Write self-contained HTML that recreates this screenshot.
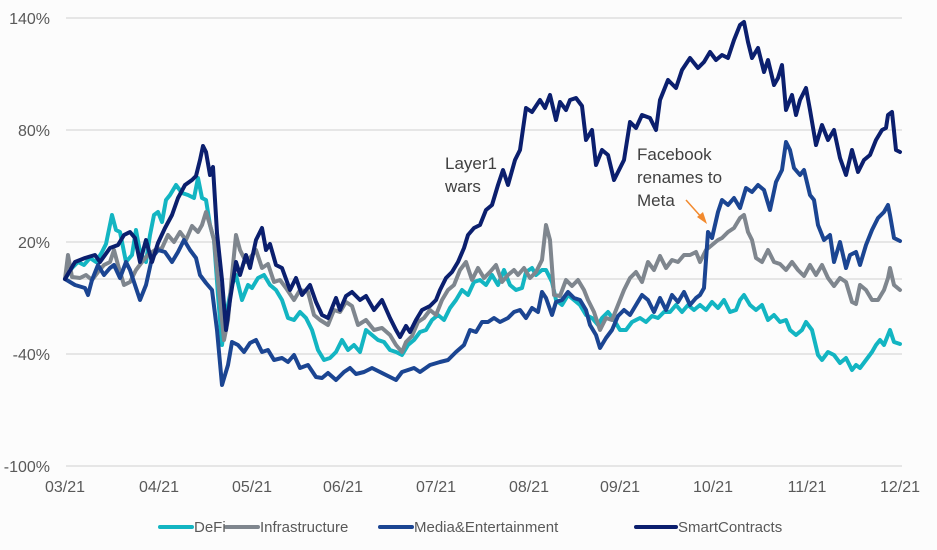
<!DOCTYPE html>
<html><head><meta charset="utf-8"><style>
body{margin:0;background:#fcfcfc;}
svg{display:block;font-family:"Liberation Sans Narrow","Liberation Sans",sans-serif;}
</style></head><body>
<svg width="937" height="550" viewBox="0 0 937 550">
<rect width="937" height="550" fill="#fcfcfc"/>
<g stroke="#d9d9d9" stroke-width="1.3">
<line x1="66" x2="902" y1="18" y2="18"/><line x1="66" x2="902" y1="130" y2="130"/>
<line x1="66" x2="902" y1="242" y2="242"/><line x1="66" x2="902" y1="279" y2="279"/>
<line x1="66" x2="902" y1="354" y2="354"/><line x1="66" x2="902" y1="466" y2="466"/>
</g>
<g font-size="16" fill="#595959" text-anchor="end">
<text x="50" y="24">140%</text><text x="50" y="136">80%</text><text x="50" y="248">20%</text>
<text x="50" y="360">-40%</text><text x="50" y="472">-100%</text>
</g>
<g font-size="16" fill="#595959" text-anchor="middle">
<text x="65" y="492">03/21</text><text x="159" y="492">04/21</text><text x="252" y="492">05/21</text>
<text x="343" y="492">06/21</text><text x="436" y="492">07/21</text><text x="529" y="492">08/21</text>
<text x="620" y="492">09/21</text><text x="713" y="492">10/21</text><text x="807" y="492">11/21</text>
<text x="900" y="492">12/21</text>
</g>
<g fill="none" stroke-width="4" stroke-linejoin="round" stroke-linecap="round">
<polyline stroke="#13b5c2" points="65,279 72,268 78,262 84,265 90,258 96,262 102,252 106,244 112,215 116,230 120,232 126,262 132,255 136,230 140,252 146,262 150,235 154,215 158,212 162,222 166,200 170,195 176,185 182,193 188,195 194,198 198,178 202,198 206,200 210,225 214,240 218,295 222,345 226,315 232,285 236,275 242,300 248,285 252,288 258,278 264,275 270,285 276,290 282,300 288,318 294,320 300,312 306,318 312,330 318,350 324,360 330,358 336,352 342,340 348,350 354,345 360,352 366,330 372,335 378,340 384,342 390,350 396,352 402,355 408,345 414,340 420,332 426,330 432,320 438,315 444,320 450,308 456,300 462,290 468,295 474,282 480,280 486,285 492,275 498,285 504,270 510,285 516,290 522,288 526,272 532,268 536,275 542,270 546,270 552,282 556,300 562,305 568,295 574,300 580,305 586,315 592,318 598,325 602,318 608,312 614,320 620,330 626,330 632,322 640,318 646,322 652,316 658,318 664,312 670,312 676,305 682,312 688,305 694,310 700,305 706,310 712,302 718,308 724,300 730,312 736,310 740,300 744,295 750,305 756,310 762,305 768,320 774,315 780,322 786,320 790,330 796,335 802,330 806,322 812,330 818,355 822,360 828,352 834,355 840,363 846,358 852,370 856,365 860,368 866,360 872,352 876,345 880,340 884,345 888,335 890,330 894,342 900,344"/>
<polyline stroke="#7f868e" points="65,279 68,255 72,277 80,278 86,275 92,280 98,272 104,265 110,262 114,250 118,265 124,285 130,282 136,270 142,262 148,255 155,250 162,248 168,235 174,242 180,232 186,240 192,226 198,232 202,225 206,212 210,225 214,240 218,280 224,340 228,320 232,275 236,235 240,250 246,262 250,258 256,250 262,268 268,264 274,282 280,280 286,288 294,300 300,290 308,292 314,315 320,320 328,325 334,310 340,312 346,302 352,306 358,325 366,320 374,330 382,328 390,335 396,345 402,352 406,342 412,336 418,322 424,318 430,310 436,315 442,300 448,290 454,285 460,270 466,262 472,280 478,268 484,278 490,272 496,265 502,282 508,275 514,270 518,275 524,268 530,278 536,272 542,260 546,225 550,240 554,295 560,296 566,280 572,286 578,280 584,290 588,300 594,312 600,330 606,318 612,320 618,305 624,290 630,278 636,272 642,282 648,262 654,270 660,256 666,268 672,260 678,262 684,255 690,255 696,252 700,262 706,250 712,245 718,240 722,238 728,232 734,228 740,218 744,215 748,232 752,240 756,258 762,262 768,250 774,262 780,264 786,270 792,262 798,270 804,276 810,265 816,275 822,265 828,278 834,286 840,278 846,282 852,302 856,304 860,285 866,290 872,300 878,300 884,290 888,278 890,268 894,285 900,290"/>
<polyline stroke="#1b4592" points="65,279 75,285 85,288 88,295 92,280 98,265 104,275 110,268 114,265 120,278 126,262 130,270 140,300 146,285 152,258 158,250 165,252 172,262 178,252 184,240 190,250 196,258 200,275 206,283 212,290 217,330 222,385 228,365 232,342 238,345 244,352 250,343 256,340 262,352 268,350 274,360 282,358 288,362 294,355 300,368 308,365 316,377 322,378 328,373 336,380 344,372 350,368 356,374 364,372 372,368 380,372 388,376 396,380 402,372 408,370 414,368 420,372 430,365 440,362 448,360 456,352 464,345 470,330 476,332 482,322 488,322 494,318 500,322 508,318 514,312 520,310 526,318 532,308 538,312 542,292 546,298 552,315 556,302 562,300 568,292 574,298 580,300 586,310 590,325 596,335 600,348 606,338 612,330 618,316 624,310 630,315 636,305 642,295 648,300 654,312 660,298 666,310 672,295 678,302 684,292 690,305 696,298 700,295 704,288 708,232 712,238 718,212 722,200 728,205 734,198 740,208 746,188 752,192 758,185 764,190 770,210 776,182 782,170 786,142 790,150 794,168 800,175 804,170 810,195 814,200 818,225 824,240 830,235 834,262 840,242 846,268 850,255 856,252 860,265 866,245 872,230 878,218 884,212 888,205 890,215 894,238 900,241"/>
<polyline stroke="#0b1f6e" points="65,279 75,262 85,258 95,255 100,262 110,248 118,245 124,235 130,232 135,238 140,262 146,240 152,262 158,243 165,228 172,215 178,198 185,185 192,180 196,176 200,160 203,146 206,152 210,175 213,167 217,233 222,280 226,330 230,300 236,262 240,275 246,255 250,268 256,240 262,228 266,250 270,244 276,265 282,268 290,290 296,278 302,295 310,285 316,302 322,315 328,318 336,298 340,310 346,296 352,292 360,300 366,296 374,310 382,300 390,318 396,330 400,337 406,326 410,332 416,320 422,310 430,306 436,300 440,290 446,278 452,272 458,262 464,248 468,235 474,228 480,225 486,210 492,205 498,185 503,170 508,185 515,160 520,150 526,108 532,112 540,100 545,108 550,95 556,120 560,102 566,110 570,100 576,98 582,106 586,140 592,130 596,165 602,150 608,155 614,180 618,172 624,160 630,122 636,128 642,115 650,118 656,130 660,100 668,80 676,88 682,70 690,58 698,68 704,62 710,52 716,60 722,55 728,58 734,40 740,25 744,22 748,42 752,58 758,48 764,72 768,60 774,85 778,78 782,65 786,110 792,95 796,115 800,100 806,88 810,110 816,145 822,125 828,140 834,130 840,158 846,175 852,150 858,172 864,160 870,155 876,140 882,130 886,128 888,115 892,112 896,150 900,152"/>
</g>
<g font-size="17" fill="#404040">
<text x="445" y="169">Layer1</text><text x="445" y="192">wars</text>
<text x="637" y="160">Facebook</text><text x="637" y="183">renames to</text><text x="637" y="206">Meta</text>
</g>
<line x1="686" y1="200" x2="703" y2="219" stroke="#f28a2e" stroke-width="1.5"/>
<polygon points="707,224 697,217 703,212" fill="#f28a2e"/>
<g stroke-width="4" stroke-linecap="round">
<line x1="160" x2="192" y1="527" y2="527" stroke="#13b5c2"/>
<line x1="226" x2="258" y1="527" y2="527" stroke="#7f868e"/>
<line x1="380" x2="412" y1="527" y2="527" stroke="#1b4592"/>
<line x1="636" x2="676" y1="527" y2="527" stroke="#0b1f6e"/>
</g>
<g font-size="15" fill="#595959">
<text x="194" y="532">DeFi</text><text x="260" y="532">Infrastructure</text>
<text x="414" y="532">Media&amp;Entertainment</text><text x="678" y="532">SmartContracts</text>
</g>
</svg>
</body></html>
